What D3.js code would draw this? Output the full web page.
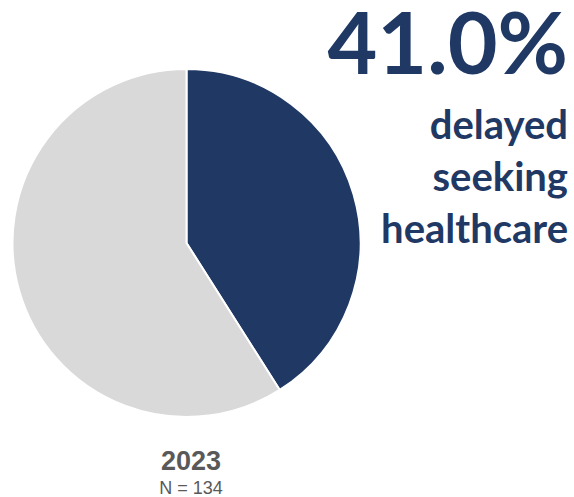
<!DOCTYPE html>
<html>
<head>
<meta charset="utf-8">
<script src="https://cdn.jsdelivr.net/npm/d3@7/dist/d3.min.js"></script>
<style>
  html, body { margin: 0; padding: 0; background: #ffffff; }
  svg { display: block; }
</style>
</head>
<body>
<svg id="chart" width="574" height="497"></svg>
<script>
// Share of respondents, 2023
const categories = ["Delayed seeking healthcare", "Did not delay"];
const values = [41.0, 59.0];
const colors = ["#1f3864", "#d9d9d9"];
const headline = "41.0%";
const captionLines = ["delayed", "seeking", "healthcare"];
const yearLabel = "2023";
const sampleLabel = "N = 134";

const svg = d3.select("#chart");
const cx = 186.5, cy = 243, radius = 174;

const pie = d3.pie().sort(null).value(d => d.value);
const arc = d3.arc().innerRadius(0).outerRadius(radius);
const data = categories.map((c, i) => ({ category: c, value: values[i], color: colors[i] }));

svg.append("g")
  .attr("transform", `translate(${cx},${cy})`)
  .selectAll("path")
  .data(pie(data))
  .join("path")
  .attr("d", arc)
  .attr("fill", d => d.data.color)
  .attr("stroke", "#ffffff")
  .attr("stroke-width", 2)
  .attr("stroke-linejoin", "round");

// Headline figure and caption on the right
svg.append("text")
  .attr("x", 568).attr("y", 74)
  .attr("text-anchor", "end")
  .attr("font-family", "Lato, 'Open Sans', sans-serif")
  .attr("font-weight", 700)
  .attr("font-size", 86)
  .attr("fill", "#1f3864")
  .text(headline);

svg.append("g")
  .selectAll("text")
  .data(captionLines)
  .join("text")
  .attr("x", 568)
  .attr("y", (d, i) => 139 + i * 52)
  .attr("text-anchor", "end")
  .attr("font-family", "Lato, 'Open Sans', sans-serif")
  .attr("font-weight", 700)
  .attr("font-size", 40)
  .attr("fill", "#1f3864")
  .text(d => d);

// Year and sample size below the pie
svg.append("text")
  .attr("x", 191).attr("y", 470)
  .attr("text-anchor", "middle")
  .attr("font-family", "'Liberation Sans', Arial, sans-serif")
  .attr("font-weight", 700)
  .attr("font-size", 27)
  .attr("fill", "#595959")
  .text(yearLabel);

svg.append("text")
  .attr("x", 191).attr("y", 494)
  .attr("text-anchor", "middle")
  .attr("font-family", "'Liberation Sans', Arial, sans-serif")
  .attr("font-size", 18)
  .attr("fill", "#595959")
  .text(sampleLabel);
</script>
</body>
</html>
